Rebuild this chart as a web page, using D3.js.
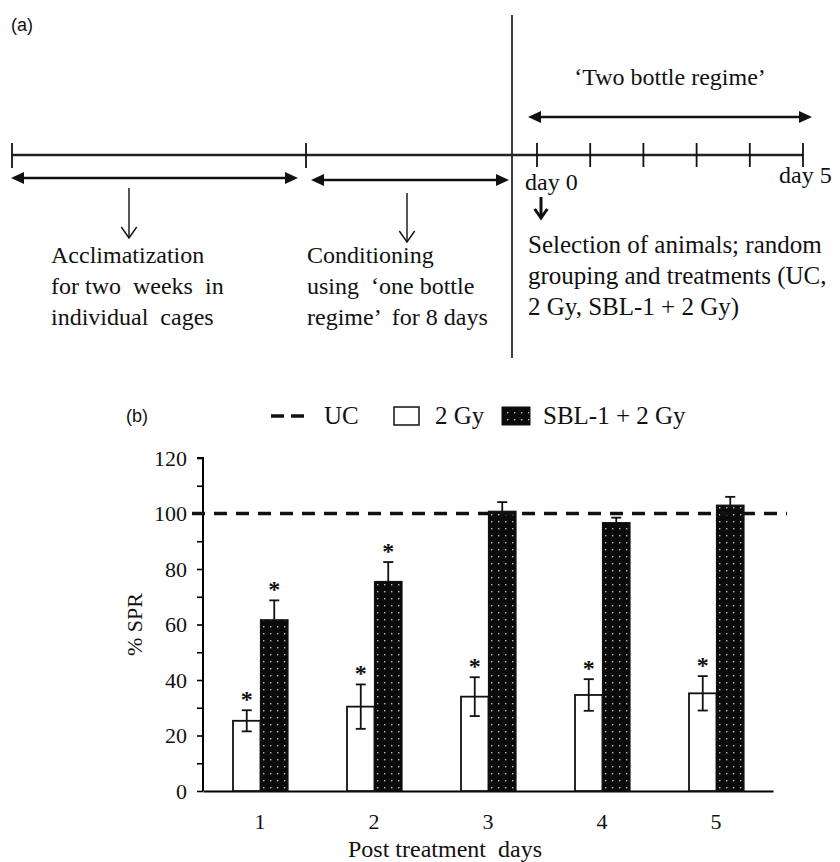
<!DOCTYPE html>
<html>
<head>
  <meta charset="utf-8" />
  <title>SPR timeline and bars</title>
  <script src="https://cdn.jsdelivr.net/npm/d3@7"></script>
  <style>
    body { margin: 0; background: white; }
    svg text { font-family: "Liberation Serif", "Times New Roman", serif; fill: #111; }
  </style>
</head>
<body>
  <svg id="fig" width="840" height="862"></svg>
  <script>
    // ---- panel (b) data ----
    var days = ["1", "2", "3", "4", "5"];
    var gy2 = [25.3, 30.4, 34.0, 34.6, 35.2];
    var gy2Err = [3.8, 8.0, 7.0, 5.7, 6.2];
    var sbl = [61.7, 75.5, 100.8, 96.7, 103.0];
    var sblErr = [7.0, 7.0, 3.3, 1.8, 3.0];
    var gy2Star = [true, true, true, true, true];
    var sblStar = [true, true, false, false, false];
    var ucLevel = 100;
    var yTicks = [0, 20, 40, 60, 80, 100, 120];
    var seriesNames = ["UC", "2 Gy", "SBL-1 + 2 Gy"];

    // ---- panel (a) text ----
    var acclimText = ["Acclimatization", "for two  weeks  in", "individual  cages"];
    var condText = ["Conditioning", "using  \u2018one bottle", "regime\u2019  for 8 days"];
    var selText = ["Selection of animals; random", "grouping and treatments (UC,", "2 Gy, SBL-1 + 2 Gy)"];
    var regimeDays = [0, 1, 2, 3, 4, 5];

    var SERIF = "'Liberation Serif', 'Times New Roman', serif";
    var SANS = "'Liberation Sans', Arial, sans-serif";

    var svg = d3.select("#fig");

    function txt(g, x, y, s, size, font) {
      return g.append("text").attr("x", x).attr("y", y)
        .style("font-family", font || SERIF).style("font-size", size + "px")
        .style("white-space", "pre").attr("fill", "#111").text(s);
    }

    // ================= panel (a) =================
    var a = svg.append("g");
    txt(a, 11, 31, "(a)", 18, SANS);

    // separator
    a.append("line").attr("x1", 512).attr("x2", 512).attr("y1", 15).attr("y2", 358)
      .attr("stroke", "#111").attr("stroke-width", 1.6);

    var tlY = 155;
    var dayX = d3.scaleLinear().domain([0, 5]).range([537, 803]);

    a.append("line").attr("x1", 12).attr("x2", dayX(5)).attr("y1", tlY).attr("y2", tlY)
      .attr("stroke", "#222").attr("stroke-width", 2.5);
    [12, 306].forEach(function(x) {
      a.append("line").attr("x1", x).attr("x2", x).attr("y1", tlY - 12).attr("y2", tlY + 13)
        .attr("stroke", "#111").attr("stroke-width", 1.8);
    });
    a.selectAll(".dtick").data(regimeDays).enter().append("line")
      .attr("x1", dayX).attr("x2", dayX).attr("y1", tlY - 12).attr("y2", tlY + 12)
      .attr("stroke", "#111").attr("stroke-width", 1.8);

    function dblArrow(x1, x2, y) {
      a.append("line").attr("x1", x1 + 6).attr("x2", x2 - 6).attr("y1", y).attr("y2", y)
        .attr("stroke", "#111").attr("stroke-width", 2.6);
      a.append("path").attr("d", "M" + x1 + "," + y + "L" + (x1 + 13) + "," + (y - 6) + "L" + (x1 + 13) + "," + (y + 6) + "Z")
        .attr("fill", "#111");
      a.append("path").attr("d", "M" + x2 + "," + y + "L" + (x2 - 13) + "," + (y - 6) + "L" + (x2 - 13) + "," + (y + 6) + "Z")
        .attr("fill", "#111");
    }
    dblArrow(11, 298, 178);
    dblArrow(311, 509, 180);
    dblArrow(528, 812, 117);

    function downArrow(x, y1, y2, w, head) {
      a.append("line").attr("x1", x).attr("x2", x).attr("y1", y1).attr("y2", y2)
        .attr("stroke", "#111").attr("stroke-width", w);
      a.append("path").attr("d", "M" + (x - head * 0.7) + "," + (y2 - head) + "L" + x + "," + y2 + "L" + (x + head * 0.7) + "," + (y2 - head))
        .attr("fill", "none").attr("stroke", "#111").attr("stroke-width", w);
    }
    downArrow(129, 188, 238, 1.4, 11);
    downArrow(407, 193, 242, 1.4, 11);
    downArrow(541, 197, 218, 3, 9);

    txt(a, 670, 85, "\u2018Two bottle regime\u2019", 24).attr("text-anchor", "middle");
    txt(a, 525, 190, "day 0", 24);
    txt(a, 779, 183, "day 5", 24);

    function block(lines, x, y0, size) {
      lines.forEach(function(t, i) { txt(a, x, y0 + i * 31, t, size); });
    }
    block(acclimText, 51, 263, 24);
    block(condText, 307, 263, 24);
    block(selText, 528, 253, 25);

    // ================= panel (b) =================
    var margin = { left: 203, right: 773, top: 458, bottom: 791 };
    var x0 = d3.scaleBand().domain(days).range([margin.left, margin.right]).padding(0);
    var x1 = d3.scaleBand().domain(["2 Gy", "SBL-1 + 2 Gy"]).range([-27, 28]).padding(0);
    var y = d3.scaleLinear().domain([0, 120]).range([margin.bottom, margin.top]);

    var defs = svg.append("defs");
    var pat = defs.append("pattern").attr("id", "dots").attr("patternUnits", "userSpaceOnUse")
      .attr("width", 7).attr("height", 7);
    pat.append("rect").attr("width", 7).attr("height", 7).attr("fill", "#0a0a0a");
    pat.append("rect").attr("x", 3).attr("y", 3).attr("width", 1.4).attr("height", 1.4).attr("fill", "#bbb");

    var b = svg.append("g");
    txt(b, 126, 422, "(b)", 18, SANS);

    // y axis
    var yAxis = d3.axisLeft(y).tickValues(d3.range(0, 121, 10)).tickSize(6)
      .tickFormat(function(d) { return yTicks.indexOf(d) >= 0 ? d : ""; }).tickPadding(10);
    var gy = b.append("g").attr("transform", "translate(" + margin.left + ",0)").call(yAxis);
    gy.select(".domain").attr("stroke-width", 2).attr("d", "M-6," + y(120) + "H0V" + y(0));
    gy.selectAll(".tick line").attr("stroke-width", 1.6);
    gy.selectAll(".tick text").style("font-size", "22px").style("font-family", SERIF).attr("fill", "#111");

    // x axis
    var xAxis = d3.axisBottom(x0).tickSize(0).tickPadding(22);
    var gx = b.append("g").attr("transform", "translate(0," + margin.bottom + ")").call(xAxis);
    gx.select(".domain").attr("stroke-width", 2);
    gx.selectAll(".tick text").style("font-size", "22px").style("font-family", SERIF).attr("fill", "#111");

    txt(b, 445, 857, "Post treatment  days", 24).attr("text-anchor", "middle");
    txt(b, 0, 0, "% SPR", 22).attr("transform", "translate(142," + y(60) + ") rotate(-90)")
      .attr("text-anchor", "middle");

    // bars
    var rows = days.map(function(d, i) {
      return { day: d, g: gy2[i], ge: gy2Err[i], s: sbl[i], se: sblErr[i], gs: gy2Star[i], ss: sblStar[i] };
    });
    var grp = b.selectAll(".day").data(rows).enter().append("g")
      .attr("transform", function(d) { return "translate(" + (x0(d.day) + x0.bandwidth() / 2) + ",0)"; });

    var bw = x1.bandwidth();
    var cxG = x1("2 Gy") + bw / 2, cxS = x1("SBL-1 + 2 Gy") + bw / 2;

    // 2 Gy: open bars with two-sided error bars
    grp.append("rect").attr("x", x1("2 Gy")).attr("width", bw)
      .attr("y", function(d) { return y(d.g); }).attr("height", function(d) { return y(0) - y(d.g); })
      .attr("fill", "white").attr("stroke", "#111").attr("stroke-width", 1.8);
    grp.append("line").attr("x1", cxG).attr("x2", cxG)
      .attr("y1", function(d) { return y(d.g - d.ge); }).attr("y2", function(d) { return y(d.g + d.ge); })
      .attr("stroke", "#111").attr("stroke-width", 1.8);
    [-1, 1].forEach(function(sgn) {
      grp.append("line").attr("x1", cxG - 5).attr("x2", cxG + 5)
        .attr("y1", function(d) { return y(d.g + sgn * d.ge); }).attr("y2", function(d) { return y(d.g + sgn * d.ge); })
        .attr("stroke", "#111").attr("stroke-width", 1.8);
    });

    // SBL-1 + 2 Gy: dotted black bars, upper error only
    grp.append("rect").attr("x", x1("SBL-1 + 2 Gy")).attr("width", bw)
      .attr("y", function(d) { return y(d.s); }).attr("height", function(d) { return y(0) - y(d.s); })
      .attr("fill", "url(#dots)").attr("stroke", "#111").attr("stroke-width", 1.2);
    grp.append("line").attr("x1", cxS).attr("x2", cxS)
      .attr("y1", function(d) { return y(d.s); }).attr("y2", function(d) { return y(d.s + d.se); })
      .attr("stroke", "#111").attr("stroke-width", 1.8);
    grp.append("line").attr("x1", cxS - 5).attr("x2", cxS + 5)
      .attr("y1", function(d) { return y(d.s + d.se); }).attr("y2", function(d) { return y(d.s + d.se); })
      .attr("stroke", "#111").attr("stroke-width", 1.8);

    // significance marks
    grp.filter(function(d) { return d.gs; }).append("text").attr("x", cxG)
      .attr("y", function(d) { return y(d.g + d.ge) - 3; }).attr("text-anchor", "middle")
      .style("font-family", SERIF).style("font-size", "24px").style("font-weight", "bold").text("*");
    grp.filter(function(d) { return d.ss; }).append("text").attr("x", cxS)
      .attr("y", function(d) { return y(d.s + d.se) - 3; }).attr("text-anchor", "middle")
      .style("font-family", SERIF).style("font-size", "24px").style("font-weight", "bold").text("*");

    // UC reference
    b.append("line").attr("x1", 192).attr("x2", 787).attr("y1", y(ucLevel)).attr("y2", y(ucLevel))
      .attr("stroke", "#111").attr("stroke-width", 3.5).attr("stroke-dasharray", "13,9");

    // legend
    var lg = b.append("g").attr("transform", "translate(0,416)");
    lg.append("line").attr("x1", 271).attr("x2", 304).attr("y1", 0).attr("y2", 0)
      .attr("stroke", "#111").attr("stroke-width", 3.5).attr("stroke-dasharray", "13,7");
    txt(lg, 324, 8, seriesNames[0], 25);
    lg.append("rect").attr("x", 394).attr("y", -9).attr("width", 25).attr("height", 18)
      .attr("fill", "white").attr("stroke", "#111").attr("stroke-width", 1.5);
    txt(lg, 435, 8, seriesNames[1], 25);
    lg.append("rect").attr("x", 502).attr("y", -9).attr("width", 28).attr("height", 18)
      .attr("fill", "url(#dots)").attr("stroke", "#111").attr("stroke-width", 1);
    txt(lg, 543, 8, seriesNames[2], 25);
  </script>
</body>
</html>
